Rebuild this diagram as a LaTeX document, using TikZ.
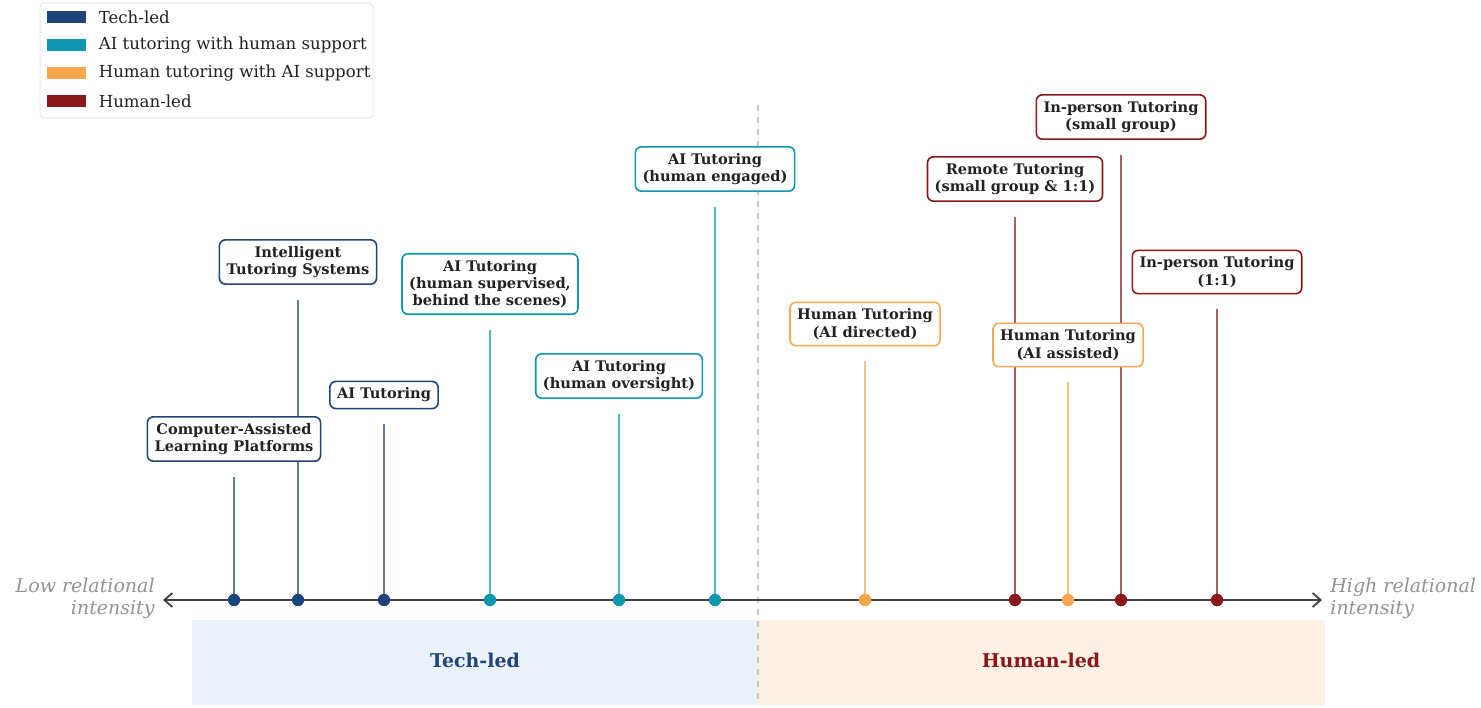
\documentclass[tikz,border=0pt]{standalone}
\usepackage{fontspec}
\setmainfont{DejaVu Serif}
\usetikzlibrary{arrows.meta,positioning}
\definecolor{techblue}{HTML}{1F4479}
\definecolor{aiteal}{HTML}{0E97AF}
\definecolor{humorange}{HTML}{F7A84E}
\definecolor{humred}{HTML}{8A1619}
\definecolor{inkgray}{HTML}{222222}
\definecolor{techband}{HTML}{EBF2FB}
\definecolor{humband}{HTML}{FDF0E5}
\pgfdeclarelayer{back}
\pgfsetlayers{back,main}
\tikzset{
  lbl/.style={draw=#1,rounded corners=3pt,line width=0.8pt,fill=white,align=center,
    font=\fontsize{7.3}{8.6}\selectfont\bfseries,text=inkgray,inner xsep=3.6pt,inner ysep=3.2pt},
  stem/.style={#1!70!white,line width=1pt},
  dot/.style={circle,fill=#1,inner sep=0pt,minimum size=6.2pt},
  swatch/.style={fill=#1,inner sep=0pt,minimum width=19.5pt,minimum height=6pt},
  bandlbl/.style={font=\fontsize{9.5}{11}\selectfont\bfseries,text=#1},
  endlbl/.style={font=\fontsize{9.5}{11}\selectfont\itshape,text=gray!85,inner sep=0pt}
}
\begin{document}
\begin{tikzpicture}[x=0.5pt,y=-0.5pt,>={Straight Barb[length=4pt,width=7pt]}]
\useasboundingbox (0,0) rectangle (1481,707);
% bands under the axis
\begin{pgfonlayer}{back}
\fill[techband] (192,620) rectangle (758,705);
\fill[humband] (758,620) rectangle (1325,705);
\end{pgfonlayer}
\node[bandlbl=techblue] (bandT) at (475,660) {Tech-led};
\node[bandlbl=humred] (bandH) at (1041,660) {Human-led};
\draw[gray!45,dashed,line width=0.6pt] (758,105) -- (758,705);
% legend
\draw[gray!25,rounded corners=2pt,fill=white] (40,3) rectangle (373,118);
\foreach \i/\c/\t in {1/techblue/Tech-led,2/aiteal/AI tutoring with human support,
  3/humorange/Human tutoring with AI support,4/humred/Human-led} {
  \node[swatch=\c] (key\i) at (66.5,{17+28*(\i-1)}) {};
  \node[right=6pt of key\i,inner sep=0pt,font=\fontsize{8.3}{10}\selectfont,text=inkgray] (keytxt\i) {\t};
}
% axis
\coordinate (axL) at (163,600);
\coordinate (axR) at (1322,600);
\draw[<->,line width=0.9pt,black!75] (axL) -- (axR);
\node[endlbl,anchor=east,align=right] (lowlbl) at (155,598) {Low relational\\intensity};
\node[endlbl,anchor=west,align=left] (highlbl) at (1330,598) {High relational\\intensity};
% approaches along the axis
\foreach \n/\x/\c/\ly/\txt in {
  cal/234/techblue/439/{Computer-Assisted\\Learning Platforms},
  its/298/techblue/262/{Intelligent\\Tutoring Systems},
  ait/384/techblue/395/{AI Tutoring},
  aisup/490/aiteal/284/{AI Tutoring\\(human supervised,\\behind the scenes)},
  aiover/619/aiteal/376/{AI Tutoring\\(human oversight)},
  aieng/715/aiteal/169/{AI Tutoring\\(human engaged)},
  htdir/865/humorange/324/{Human Tutoring\\(AI directed)},
  remote/1015/humred/179/{Remote Tutoring\\(small group \& 1:1)},
  htass/1068/humorange/345/{Human Tutoring\\(AI assisted)},
  ipgrp/1121/humred/117/{In-person Tutoring\\(small group)},
  ipone/1217/humred/272/{In-person Tutoring\\(1:1)}} {
  \node[lbl=\c] (l\n) at (\x,\ly) {\txt};
  \coordinate (p\n) at (\x,600);
  \begin{pgfonlayer}{back}
  \draw[stem=\c,shorten >=7.5pt] (p\n) -- (p\n |- l\n.south);
  \end{pgfonlayer}
  \node[dot=\c] (d\n) at (p\n) {};
}
\end{tikzpicture}
\end{document}
